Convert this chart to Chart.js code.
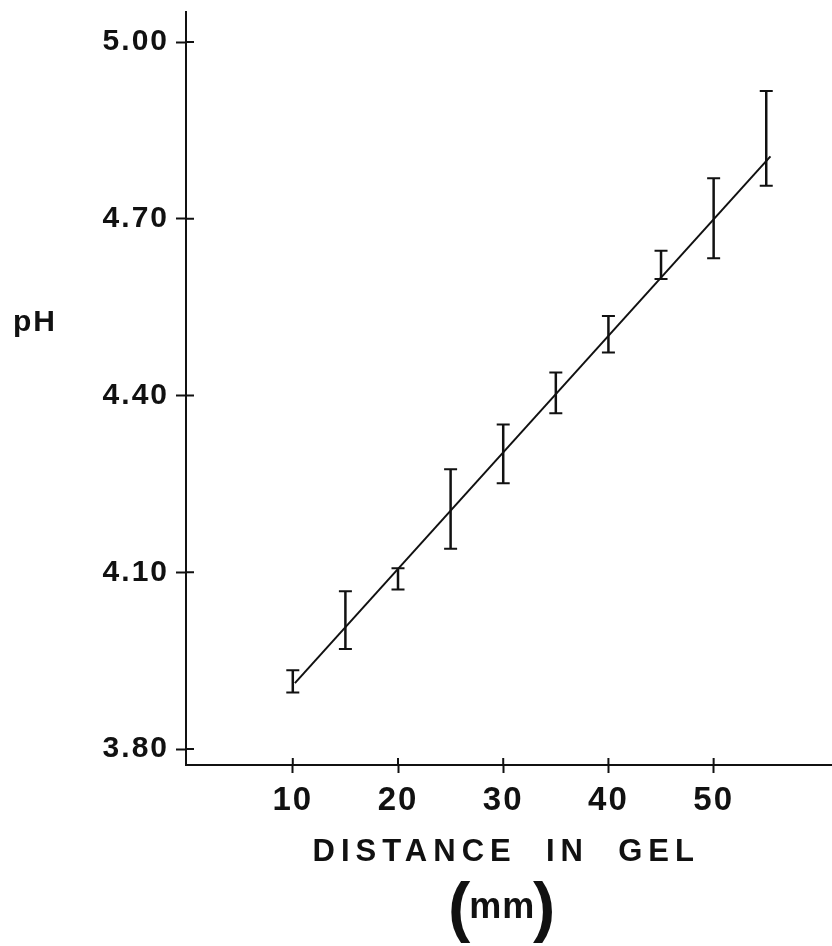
<!DOCTYPE html>
<html>
<head>
<meta charset="utf-8">
<script src="https://cdn.jsdelivr.net/npm/chart.js@4.4.1/dist/chart.umd.min.js"></script>
<style>
  html, body { margin: 0; padding: 0; background: #fff; }
  canvas { display: block; }
</style>
</head>
<body>
<canvas id="phChart" width="832" height="946"></canvas>
<script>
// ---- Data ----
const DISTANCE = [10, 15, 20, 25, 30, 35, 40, 45, 50, 55];
const PH_MEAN  = [3.915, 4.02, 4.09, 4.21, 4.30, 4.405, 4.505, 4.62, 4.70, 4.835];
const PH_LOW   = [3.896, 3.970, 4.071, 4.140, 4.251, 4.370, 4.473, 4.598, 4.633, 4.756];
const PH_HIGH  = [3.934, 4.068, 4.107, 4.275, 4.351, 4.439, 4.535, 4.646, 4.769, 4.917];

// fitted line, drawn from end to end
const FIT_X = [10.2, 55.4];
const FIT_Y = [3.912, 4.806];

const X_TICKS = [10, 20, 30, 40, 50];
const Y_TICKS = [3.80, 4.10, 4.40, 4.70, 5.00];
const Y_TICK_LABELS = ['3.80', '4.10', '4.40', '4.70', '5.00'];

const INK = '#111';

// ---- Helpers ----
// error bars with caps, placed through the chart scales
const errorBars = {
  id: 'errorBars',
  afterDatasetsDraw(chart) {
    const { ctx, scales: { x, y } } = chart;
    ctx.save();
    ctx.strokeStyle = INK;
    DISTANCE.forEach((d, i) => {
      const px = x.getPixelForValue(d);
      const top = y.getPixelForValue(PH_HIGH[i]);
      const bot = y.getPixelForValue(PH_LOW[i]);
      ctx.lineWidth = 2.5;
      ctx.beginPath();
      ctx.moveTo(px, top);
      ctx.lineTo(px, bot);
      ctx.stroke();
      ctx.lineWidth = 2;
      ctx.beginPath();
      ctx.moveTo(px - 6.5, top);
      ctx.lineTo(px + 6.5, top);
      ctx.moveTo(px - 6.5, bot);
      ctx.lineTo(px + 6.5, bot);
      ctx.stroke();
    });
    ctx.restore();
  }
};

// tick marks crossing into the plot, plus the axis titles
const axisDecor = {
  id: 'axisDecor',
  beforeDraw(chart) {
    chart.ctx.letterSpacing = '2px';
  },
  afterDraw(chart) {
    const { ctx, chartArea, scales: { x, y } } = chart;
    ctx.save();
    ctx.strokeStyle = INK;
    ctx.lineWidth = 2;
    ctx.beginPath();
    X_TICKS.forEach(v => {
      const px = x.getPixelForValue(v);
      ctx.moveTo(px, chartArea.bottom);
      ctx.lineTo(px, chartArea.bottom - 7);
    });
    Y_TICKS.forEach(v => {
      const py = y.getPixelForValue(v);
      ctx.moveTo(chartArea.left, py);
      ctx.lineTo(chartArea.left + 8, py);
    });
    ctx.stroke();

    ctx.fillStyle = INK;
    ctx.textBaseline = 'alphabetic';

    // y title, written horizontally at the far left
    ctx.font = 'bold 30px "Liberation Sans", Arial, sans-serif';
    ctx.letterSpacing = '2px';
    ctx.textAlign = 'left';
    ctx.fillText('pH', 13, 331);

    // x title, centred under the 30 mm tick
    const cx = x.getPixelForValue(30);
    ctx.font = 'bold 31px "Liberation Sans", Arial, sans-serif';
    ctx.letterSpacing = '6px';
    ctx.textAlign = 'center';
    ctx.fillText('DISTANCE  IN  GEL', cx + 3, 861);

    ctx.letterSpacing = '1px';
    ctx.font = 'bold 36px "Liberation Sans", Arial, sans-serif';
    ctx.fillText('mm', cx - 1, 918);
    ctx.letterSpacing = '0px';
    ctx.font = 'bold 67px "Liberation Sans", Arial, sans-serif';
    ctx.fillText('(', cx - 44, 929);
    ctx.fillText(')', cx + 41, 929);
    ctx.restore();
  }
};

// ---- Chart ----
const ctx = document.getElementById('phChart').getContext('2d');
new Chart(ctx, {
  type: 'scatter',
  data: {
    datasets: [
      {
        label: 'pH',
        data: DISTANCE.map((d, i) => ({ x: d, y: PH_MEAN[i] })),
        pointRadius: 0,
        showLine: false,
      },
      {
        label: 'fit',
        data: FIT_X.map((d, i) => ({ x: d, y: FIT_Y[i] })),
        showLine: true,
        borderColor: INK,
        borderWidth: 2,
        pointRadius: 0,
        fill: false,
      },
    ],
  },
  options: {
    responsive: false,
    animation: false,
    devicePixelRatio: 1,
    layout: { padding: { top: 12, right: 0, bottom: 0, left: 0 } },
    plugins: {
      legend: { display: false },
      tooltip: { enabled: false },
    },
    scales: {
      x: {
        type: 'linear',
        min: -0.15,
        max: 61.25,
        afterFit(scale) {
          scale.height = 181;
          scale.paddingLeft = 0;
          scale.paddingRight = 0;
        },
        afterBuildTicks(scale) { scale.ticks = X_TICKS.map(v => ({ value: v })); },
        border: { color: INK, width: 2 },
        grid: {
          drawOnChartArea: false,
          drawTicks: true,
          tickLength: 8,
          tickColor: INK,
          tickWidth: 2,
        },
        ticks: {
          color: INK,
          padding: 8,
          maxRotation: 0,
          font: { family: '"Liberation Sans", Arial, sans-serif', size: 33, weight: 'bold' },
        },
      },
      y: {
        type: 'linear',
        min: 3.773,
        max: 5.051,
        afterFit(scale) {
          scale.width = 186;
          scale.paddingTop = 0;
          scale.paddingBottom = 0;
        },
        afterBuildTicks(scale) { scale.ticks = Y_TICKS.map(v => ({ value: v })); },
        border: { color: INK, width: 2 },
        grid: {
          drawOnChartArea: false,
          drawTicks: true,
          tickLength: 10,
          tickColor: INK,
          tickWidth: 2,
        },
        ticks: {
          color: INK,
          padding: 7,
          callback: (value, index) => Y_TICK_LABELS[index],
          font: { family: '"Liberation Sans", Arial, sans-serif', size: 30, weight: 'bold' },
        },
      },
    },
  },
  plugins: [errorBars, axisDecor],
});
</script>
</body>
</html>
